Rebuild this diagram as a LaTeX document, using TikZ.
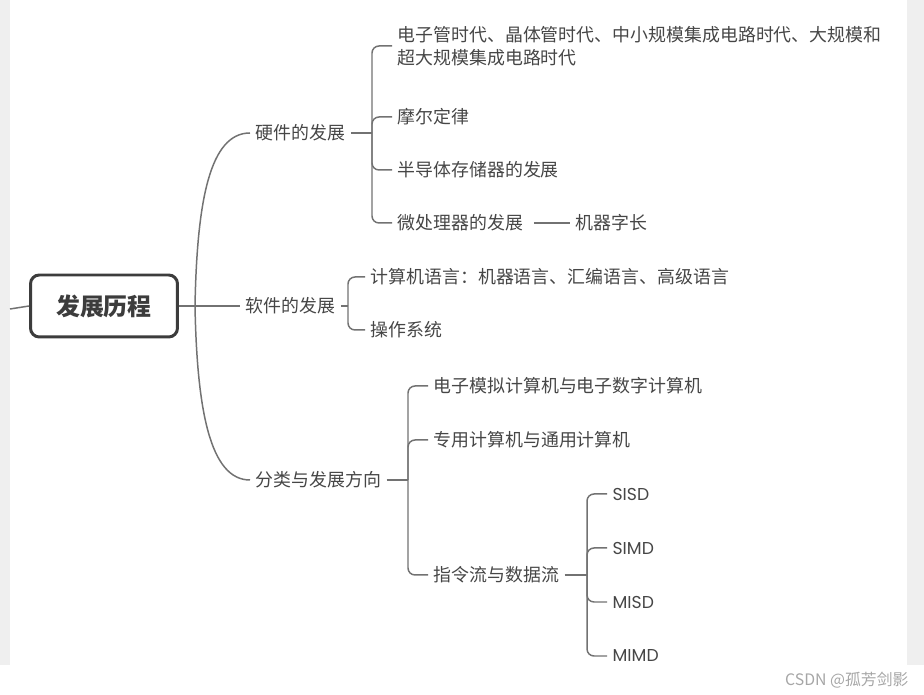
\documentclass[tikz,border=0pt]{standalone}
\usepackage{fontspec}
\usepackage{xcolor}
\newfontfamily\cjk{Noto Sans CJK SC}
\newfontfamily\latn{Poppins}
\definecolor{txtgray}{HTML}{464646}
\definecolor{linegray}{HTML}{727272}
\definecolor{boxgray}{HTML}{3C3C3C}
\definecolor{stripgray}{HTML}{EFEFEF}
\usetikzlibrary{calc}

\begin{document}
\begin{tikzpicture}[x=0.02cm, y=-0.02cm,
  every node/.style={text=txtgray, inner xsep=3pt, font=\cjk\fontsize{10.2}{13}\selectfont},
  topic/.style={anchor=west},
  leaf/.style={anchor=west, align=left},
  flag/.style={anchor=west, font=\latn\fontsize{9.8}{12}\selectfont},
  link/.style={draw=linegray, line width=0.85pt},
  brace/.style={link, rounded corners=4pt}]
  \useasboundingbox (0,0) rectangle (924,695);
  \fill[stripgray] (0,0) rectangle (10,665);
  \fill[stripgray] (907,0) rectangle (924,665);
  % central topic
  \node[draw=boxgray, line width=1.7pt, rounded corners=5pt, fill=white, minimum width=2.94cm, minimum height=1.24cm, text=boxgray, font=\cjk\bfseries\fontsize{13.6}{16}\selectfont] (root) at (104,306) {发展历程};
  \coordinate (rootin) at (10,309);
  \coordinate (rootj) at (195,306);
  \draw[link] (rootin) -- (root.west);
  \draw[link] (root.east) -- (rootj);
  % main branches
  \node[topic] (hw) at (250,133) {硬件的发展};
  \node[topic] (sw) at (240,306) {软件的发展};
  \node[topic] (cls) at (250,480) {分类与发展方向};
  \draw[link] (rootj) .. controls (197,200) and (210,133) .. (hw.west);
  \draw[link] (rootj) -- (sw.west);
  \draw[link] (rootj) .. controls (197,410) and (210,480) .. (cls.west);
  % hardware
  \coordinate (hwj) at (372,133);
  \node[leaf] (era) at (392,46) {电子管时代、晶体管时代、中小规模集成电路时代、大规模和\\超大规模集成电路时代};
  \node[leaf] (moore) at (392,117) {摩尔定律};
  \node[leaf] (mem) at (392,170) {半导体存储器的发展};
  \node[leaf] (cpu) at (392,223) {微处理器的发展};
  \node[leaf] (word) at (570,223) {机器字长};
  \draw[link] (hw.east) -- (hwj);
  \foreach \n in {era, moore, mem, cpu}
    \draw[brace] (hwj) |- (\n.west);
  \draw[link, shorten <=3pt] (cpu.east) -- (word.west);
  % software
  \coordinate (swj) at (348,306);
  \node[leaf] (lang) at (365,277) {计算机语言：机器语言、汇编语言、高级语言};
  \node[leaf] (os) at (365,330) {操作系统};
  \draw[link] (sw.east) -- (swj);
  \foreach \n in {lang, os}
    \draw[brace] (swj) |- (\n.west);
  % classification
  \coordinate (clsj) at (408,480);
  \node[leaf] (analog) at (428,386) {电子模拟计算机与电子数字计算机};
  \node[leaf] (special) at (428,440) {专用计算机与通用计算机};
  \node[leaf] (flow) at (428,575) {指令流与数据流};
  \draw[link] (cls.east) -- (clsj);
  \foreach \n in {analog, special, flow}
    \draw[brace] (clsj) |- (\n.west);
  % instruction / data streams
  \coordinate (flowj) at (587,575);
  \node[flag] (sisd) at (607,494) {SISD};
  \node[flag] (simd) at (607,548) {SIMD};
  \node[flag] (misd) at (607,602) {MISD};
  \node[flag] (mimd) at (607,656) {MIMD};
  \draw[link] (flow.east) -- (flowj);
  \foreach \n in {sisd, simd, misd, mimd}
    \draw[brace] (flowj) |- (\n.west);
  % watermark
  \node[anchor=east, text=black!35, font=\cjk\fontsize{9}{11}\selectfont] (mark) at (914,680) {CSDN @孤芳剑影};
\end{tikzpicture}
\end{document}
